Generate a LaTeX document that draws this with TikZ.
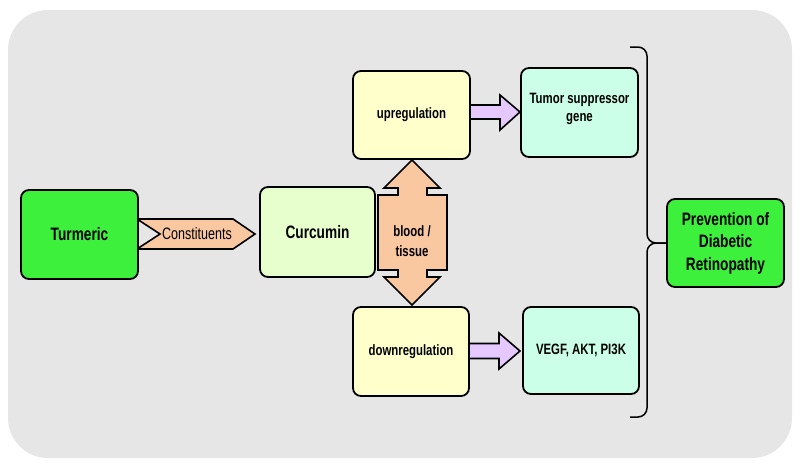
\documentclass[tikz,border=0pt]{standalone}
\usepackage{fontspec}
\setmainfont[FakeStretch=0.76]{Liberation Sans}
\usetikzlibrary{calc}
\definecolor{bggrey}{RGB}{230,230,230}
\definecolor{brightgreen}{RGB}{60,240,60}
\definecolor{palegreen}{RGB}{230,255,204}
\definecolor{paleyellow}{RGB}{255,255,204}
\definecolor{mint}{RGB}{204,255,232}
\definecolor{peach}{RGB}{250,200,160}
\definecolor{lavender}{RGB}{228,200,255}
\begin{document}
\begin{tikzpicture}[x=1pt,y=-1pt,
  box/.style={draw=black, line width=1.8pt, rounded corners=8pt, inner sep=2pt,
    align=center, font=\bfseries\fontsize{15}{19}\selectfont},
  bigtext/.style={font=\bfseries\fontsize{18}{22.5}\selectfont},
  shapeline/.style={draw=black, line width=1.6pt, line join=miter},
  lbl/.style={inner sep=0pt, align=center}]
\useasboundingbox (0,0) rectangle (800,467);
\fill[white] (0,0) rectangle (800,467);
\fill[bggrey, rounded corners=40pt] (8,10) rectangle (792,458);

% Constituents chevron
\draw[shapeline, fill=peach] (137,219) -- (233,219) -- (255,234) -- (233,249) -- (137,249) -- (160,234) -- cycle;
\node[lbl, font=\fontsize{16.5}{19}\selectfont] (const) at (197,234) {Constituents};

% blood / tissue double arrow callout
\draw[shapeline, fill=peach] (412,160) -- (440,188) -- (427,188) -- (427,195) -- (447,195) -- (447,270)
  -- (427,270) -- (427,277) -- (440,277) -- (412,305) -- (384,277) -- (398,277) -- (398,270)
  -- (378,270) -- (378,195) -- (398,195) -- (398,188) -- (384,188) -- cycle;
\node[lbl, font=\bfseries\fontsize{15}{20}\selectfont] (blood) at (412,241) {blood /\\tissue};

% purple arrows
\draw[shapeline, fill=lavender] (469,105) -- (500,105) -- (500,95) -- (520,112) -- (500,130) -- (500,119) -- (469,119) -- cycle;
\draw[shapeline, fill=lavender] (468,343.5) -- (499,343.5) -- (499,333) -- (520,351) -- (499,369) -- (499,358.5) -- (468,358.5) -- cycle;

% boxes
\node[box, bigtext, fill=brightgreen, minimum width=117pt, minimum height=89pt] (turmeric) at (79.5,234.5) {Turmeric};
\node[box, bigtext, fill=palegreen, minimum width=115pt, minimum height=90pt] (curcumin) at (317.5,232) {Curcumin};
\node[box, fill=paleyellow, minimum width=117pt, minimum height=88pt] (up) at (411.5,115) {upregulation};
\node[box, fill=paleyellow, minimum width=116pt, minimum height=89pt] (down) at (411,351.5) {downregulation};
\node[box, fill=mint, minimum width=117pt, minimum height=89pt] (tsg) at (579.5,112.5) {};
\node[lbl, font=\bfseries\fontsize{15}{18.5}\selectfont] (tsgtext) at (579.5,109) {Tumor suppressor\\gene};
\node[box, fill=mint, minimum width=116pt, minimum height=87pt] (vegf) at (581,350.5) {VEGF, AKT, PI3K};
\node[box, bigtext, fill=brightgreen, minimum width=117pt, minimum height=88pt] (prev) at (725.5,243) {Prevention of\\Diabetic\\Retinopathy};

% brace
\draw[line width=1.5pt, rounded corners=9pt] (630,47) -- (647,47) -- (647,243) -- (prev.west);
\draw[line width=1.5pt, rounded corners=9pt] (630,417) -- (647,417) -- (647,243) -- (prev.west);
\end{tikzpicture}
\end{document}
